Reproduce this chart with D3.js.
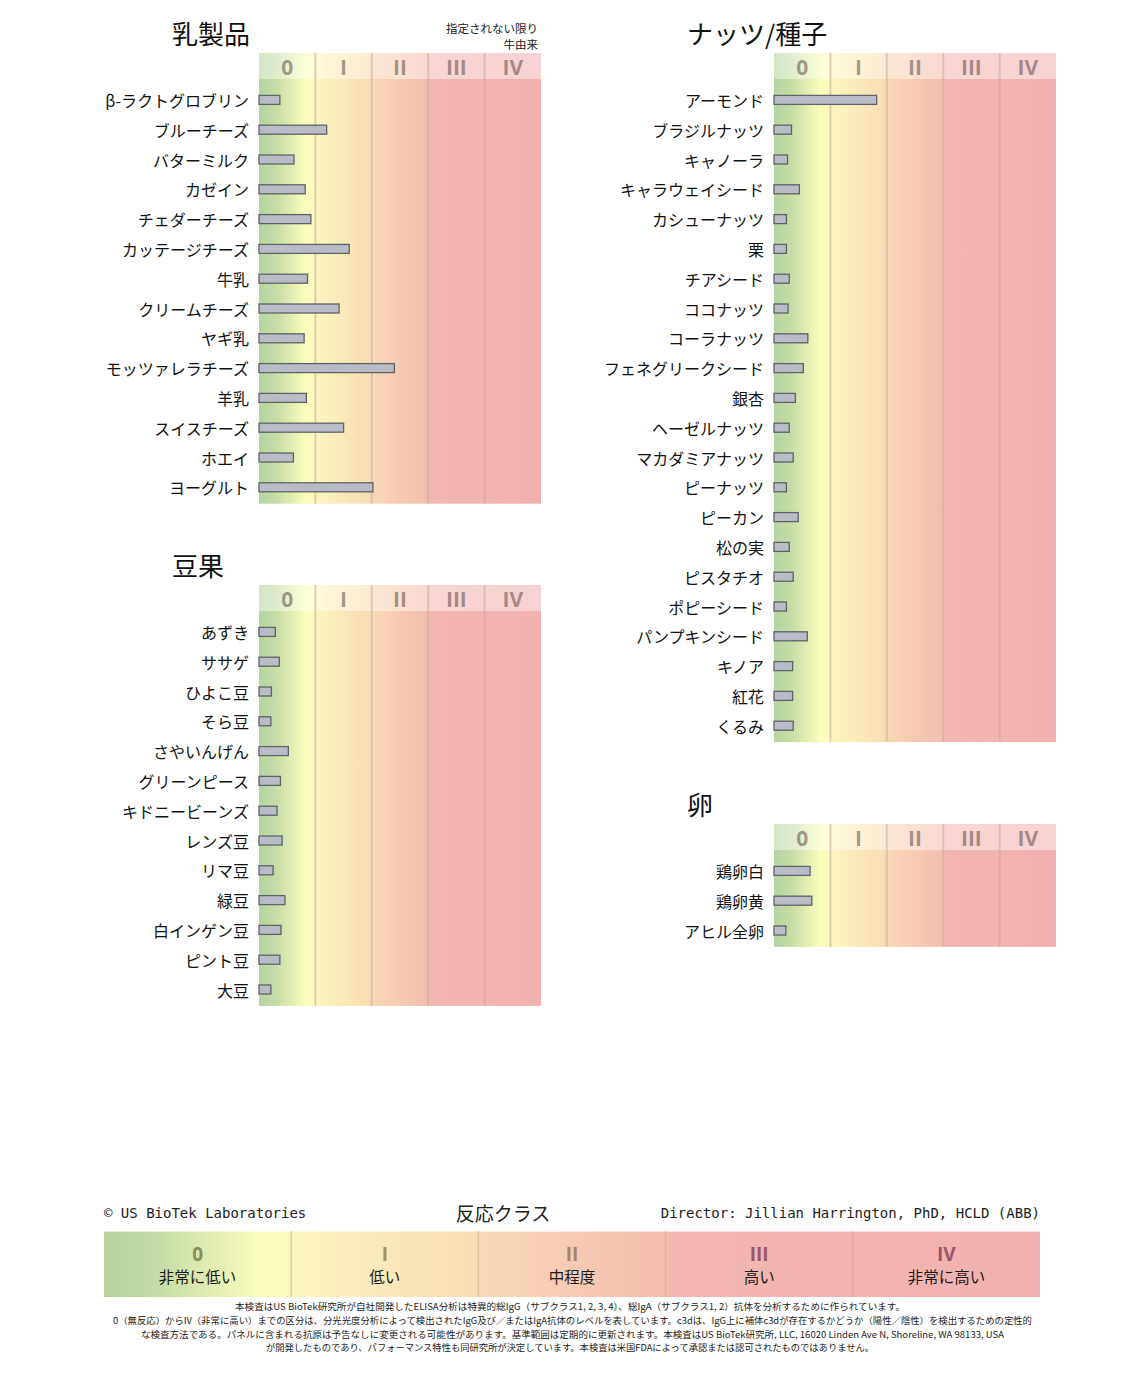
<!DOCTYPE html>
<html><head><meta charset="utf-8">
<script src="https://cdn.jsdelivr.net/npm/d3@7"></script>
<style>
html,body{margin:0;padding:0;background:#fff;}
svg{display:block;}
</style></head>
<body>
<script>
// ---- data ----
const classLabels = ["0","I","II","III","IV"];
const legendWords = ["非常に低い","低い","中程度","高い","非常に高い"];

const dairyLabels = ["β-ラクトグロブリン","ブルーチーズ","バターミルク","カゼイン","チェダーチーズ","カッテージチーズ","牛乳","クリームチーズ","ヤギ乳","モッツァレラチーズ","羊乳","スイスチーズ","ホエイ","ヨーグルト"];
const dairyValues = [0.37,1.20,0.62,0.82,0.92,1.60,0.86,1.42,0.80,2.40,0.84,1.50,0.61,2.02];

const legumeLabels = ["あずき","ササゲ","ひよこ豆","そら豆","さやいんげん","グリーンピース","キドニービーンズ","レンズ豆","リマ豆","緑豆","白インゲン豆","ピント豆","大豆"];
const legumeValues = [0.29,0.36,0.22,0.21,0.52,0.38,0.32,0.41,0.25,0.46,0.39,0.37,0.21];

const nutLabels = ["アーモンド","ブラジルナッツ","キャノーラ","キャラウェイシード","カシューナッツ","栗","チアシード","ココナッツ","コーラナッツ","フェネグリークシード","銀杏","ヘーゼルナッツ","マカダミアナッツ","ピーナッツ","ピーカン","松の実","ピスタチオ","ポピーシード","パンプキンシード","キノア","紅花","くるみ"];
const nutValues = [1.82,0.31,0.24,0.45,0.22,0.22,0.27,0.25,0.60,0.52,0.38,0.27,0.34,0.22,0.43,0.27,0.34,0.22,0.59,0.33,0.33,0.34];

const eggLabels = ["鶏卵白","鶏卵黄","アヒル全卵"];
const eggValues = [0.64,0.67,0.21];

const footerLines = [
 "本検査はUS BioTek研究所が自社開発したELISA分析は特異的総IgG（サブクラス1, 2, 3, 4）、総IgA（サブクラス1, 2）抗体を分析するために作られています。",
 "0（無反応）からIV（非常に高い）までの区分は、分光光度分析によって検出されたIgG及び／またはIgA抗体のレベルを表しています。c3dは、IgG上に補体c3dが存在するかどうか（陽性／陰性）を検出するための定性的",
 "な検査方法である。パネルに含まれる抗原は予告なしに変更される可能性があります。基準範囲は定期的に更新されます。本検査はUS BioTek研究所, LLC, 16020 Linden Ave N, Shoreline, WA 98133, USA",
 "が開発したものであり、パフォーマンス特性も同研究所が決定しています。本検査は米国FDAによって承認または認可されたものではありません。"
];

// ---- drawing ----
const W = 1144, H = 1390;
const svg = d3.select("body").append("svg").attr("width", W).attr("height", H);
const defs = svg.append("defs");
const JP = "'Noto Sans CJK JP','Noto Sans',sans-serif";

const stops = [
  [0.00,"#b5d49f"],[0.06,"#c6dca6"],[0.165,"#fbfdbb"],[0.195,"#fcfbbb"],
  [0.205,"#fcf6be"],[0.40,"#f8dcb3"],
  [0.41,"#f8d7b5"],[0.60,"#f4bcb0"],
  [0.61,"#f3b6b2"],[1.00,"#f2b1b1"]
];
function makeGrad(id){
  const g = defs.append("linearGradient").attr("id", id).attr("x1","0").attr("x2","1").attr("y1","0").attr("y2","0");
  stops.forEach(s => g.append("stop").attr("offset", s[0]).attr("stop-color", s[1]));
}
makeGrad("bgGrad");
makeGrad("legGrad");

const PW = 282, HH = 26, STEP = 29.8;
const x = d3.scaleLinear().domain([0,5]).range([0,PW]);

function panel(title, labels, values, left, top, note){
  const g = svg.append("g");
  const bandTop = top + HH + 6;
  const y = d3.scaleBand().domain(labels).range([bandTop, bandTop + labels.length*STEP]);
  const bottom = bandTop + labels.length*STEP + 1.5;
  g.append("rect").attr("x", left).attr("y", top).attr("width", PW).attr("height", bottom-top).attr("fill","url(#bgGrad)");
  g.append("rect").attr("x", left).attr("y", top).attr("width", PW).attr("height", HH).attr("fill","#fff").attr("opacity",0.42);
  [1,2,3,4].forEach(c => {
    g.append("line").attr("x1", left + x(c)).attr("x2", left + x(c))
     .attr("y1", top).attr("y2", bottom).attr("stroke","#c9a9a0").attr("stroke-opacity",0.55).attr("stroke-width",2);
  });
  classLabels.forEach((c,i) => {
    g.append("text").attr("x", left + x(i+0.5)).attr("y", top + HH/2 + 1)
     .attr("text-anchor","middle").attr("dominant-baseline","central")
     .attr("font-family","'Open Sans','DejaVu Sans',sans-serif").attr("font-weight","bold").attr("font-size",21)
     .attr("fill","#5a4a46").attr("fill-opacity",0.55).text(c);
  });
  svg.append("text").attr("x", left - 87).attr("y", top - 9)
    .attr("font-family", JP).attr("font-size", 26).attr("fill","#111").text(title);
  if (note){
    note.forEach((t,i) => svg.append("text").attr("x", left + PW - 3).attr("y", top - 20 + i*16)
      .attr("text-anchor","end")
      .attr("font-family", JP).attr("font-size", 11.5).attr("fill","#222").text(t));
  }
  g.selectAll("text.lab").data(labels).join("text").attr("class","lab")
   .attr("x", left - 10).attr("y", d => y(d) + y.bandwidth()/2)
   .attr("text-anchor","end").attr("dominant-baseline","central")
   .attr("font-family", JP).attr("font-size", 16).attr("fill","#111").text(d => d);
  g.selectAll("rect.bar").data(values).join("rect").attr("class","bar")
   .attr("x", left + x(0)).attr("y", (d,i) => y(labels[i]) + y.bandwidth()/2 - 4.5)
   .attr("width", d => x(d)).attr("height", 9)
   .attr("fill","#b9bcc6").attr("stroke","#5d6367").attr("stroke-width",1.3);
}

panel("乳製品", dairyLabels, dairyValues, 259, 53, ["指定されない限り","牛由来"]);
panel("豆果", legumeLabels, legumeValues, 259, 585);
panel("ナッツ/種子", nutLabels, nutValues, 774, 53);
panel("卵", eggLabels, eggValues, 774, 824);

// ---- footer legend ----
const LX = 104, LW = 936, LY = 1231, LH = 66;
const lx = d3.scaleLinear().domain([0,5]).range([LX, LX+LW]);
svg.append("rect").attr("x", LX).attr("y", LY).attr("width", LW).attr("height", LH).attr("fill","url(#legGrad)");
svg.append("line").attr("x1",LX).attr("x2",LX+LW).attr("y1",LY+0.5).attr("y2",LY+0.5).attr("stroke","#fff").attr("stroke-opacity",0.6);
[1,2,3,4].forEach(c => svg.append("line").attr("x1", lx(c)).attr("x2", lx(c)).attr("y1", LY).attr("y2", LY+LH)
   .attr("stroke","#c8b090").attr("stroke-opacity",0.6).attr("stroke-width",1.5));
const numColors = ["#8c8c5a","#a39060","#a4826c","#9e5664","#94586a"];
classLabels.forEach((c,i) => {
  svg.append("text").attr("x", lx(i+0.5)).attr("y", 1261).attr("text-anchor","middle")
    .attr("font-family","'Open Sans','DejaVu Sans',sans-serif").attr("font-weight","bold").attr("font-size",19)
    .attr("fill", numColors[i]).text(c);
  svg.append("text").attr("x", lx(i+0.5)).attr("y", 1283).attr("text-anchor","middle")
    .attr("font-family", JP).attr("font-size", 15.5).attr("fill","#1a1a1a").text(legendWords[i]);
});
svg.append("text").attr("x", 104).attr("y", 1213).attr("dominant-baseline","central")
  .attr("font-family","'DejaVu Sans Mono',monospace").attr("font-size",14).attr("fill","#222").text("© US BioTek Laboratories");
svg.append("text").attr("x", 1040).attr("y", 1213).attr("text-anchor","end").attr("dominant-baseline","central")
  .attr("font-family","'DejaVu Sans Mono',monospace").attr("font-size",14).attr("fill","#222").text("Director: Jillian Harrington, PhD, HCLD (ABB)");
svg.append("text").attr("x", 503).attr("y", 1212).attr("text-anchor","middle").attr("dominant-baseline","central")
  .attr("font-family", JP).attr("font-size", 19).attr("fill","#222").text("反応クラス");

const lineGeom = [[235,905,1306],[113,1032,1320],[141,1004,1334],[266,874,1347]];
footerLines.forEach((t,i) => {
  const [a,b,yy] = lineGeom[i];
  svg.append("text").attr("x", a).attr("y", yy).attr("dominant-baseline","central")
    .attr("font-family", JP).attr("font-size", 9).attr("fill","#222")
    .attr("textLength", b-a).attr("lengthAdjust","spacingAndGlyphs").text(t);
});
</script>
</body></html>
